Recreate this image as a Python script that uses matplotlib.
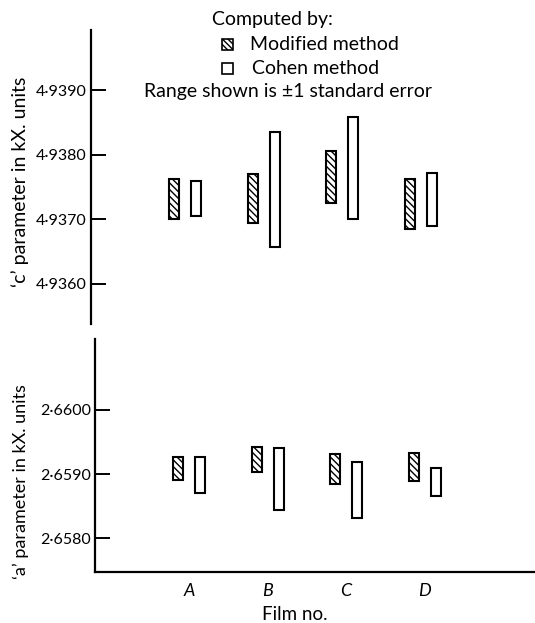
import matplotlib
matplotlib.use("Agg")
import matplotlib.pyplot as plt
from matplotlib.patches import Rectangle
import numpy as np

plt.rcParams['font.family'] = ['Lato', 'DejaVu Sans']
plt.rcParams['hatch.linewidth'] = 1.0

films = ['A', 'B', 'C', 'D']
c_mod_low = [4.93700, 4.93694, 4.93725, 4.93685]
c_mod_high = [4.93762, 4.93771, 4.93806, 4.93762]
c_coh_low = [4.93705, 4.93657, 4.93700, 4.93689]
c_coh_high = [4.93759, 4.93835, 4.93858, 4.93772]
a_mod_low = [2.65891, 2.65903, 2.65884, 2.65889]
a_mod_high = [2.65927, 2.65942, 2.65931, 2.65933]
a_coh_low = [2.65871, 2.65844, 2.65831, 2.65866]
a_coh_high = [2.65926, 2.65940, 2.65918, 2.65909]
c_ticks = [4.9360, 4.9370, 4.9380, 4.9390]
c_ticklabels = ['4·9360', '4·9370', '4·9380', '4·9390']
a_ticks = [2.6580, 2.6590, 2.6600]
a_ticklabels = ['2·6580', '2·6590', '2·6600']

W, H = 535, 623
fig = plt.figure(figsize=(W / 100, H / 100), dpi=100)

def frac(x0, y0, x1, y1):
    return [x0 / W, 1 - y1 / H, (x1 - x0) / W, (y1 - y0) / H]

ax1 = fig.add_axes(frac(91, 30, 531, 324))
ax2 = fig.add_axes(frac(95, 339, 535, 572))

x = np.arange(len(films))
bw = 0.13
off = 0.14
fs = 11.5

def draw(ax, mlo, mhi, clo, chi, ticks, labels, ylim, ylabel, lfs):
    mlo, mhi, clo, chi = map(np.array, (mlo, mhi, clo, chi))
    ax.bar(x - off, mhi - mlo, bottom=mlo, width=bw, facecolor='white',
           edgecolor='black', linewidth=1.5, hatch='\\\\\\\\\\')
    ax.bar(x + off, chi - clo, bottom=clo, width=bw, facecolor='white',
           edgecolor='black', linewidth=1.5)
    ax.set_xlim(-1.2, 4.405)
    ax.set_ylim(*ylim)
    ax.set_yticks(ticks)
    ax.set_yticklabels(labels, fontsize=fs)
    ax.tick_params(axis='y', direction='in', length=11, width=1.4, pad=3)
    for s in ['top', 'right']:
        ax.spines[s].set_visible(False)
    ax.spines['left'].set_linewidth(1.6)
    ax.set_ylabel(ylabel, fontsize=lfs)

draw(ax1, c_mod_low, c_mod_high, c_coh_low, c_coh_high, c_ticks, c_ticklabels,
     (4.9390 - 232 / 64 * 0.001, 4.9390 + 60 / 64 * 0.001),
     "‘c’ parameter in kX. units", 14)
ax1.spines['bottom'].set_visible(False)
ax1.set_xticks([])
ax1.yaxis.set_label_coords(-0.142, 0.483)

draw(ax2, a_mod_low, a_mod_high, a_coh_low, a_coh_high, a_ticks, a_ticklabels,
     (2.6600 - 162 / 64 * 0.001, 2.6600 + 71 / 64 * 0.001),
     "‘a’ parameter in kX. units", 13)
ax2.spines['bottom'].set_linewidth(1.6)
ax2.set_xticks(x)
ax2.set_xticklabels(films, fontsize=13, style='italic')
ax2.tick_params(axis='x', length=0, pad=8)
ax2.set_xlabel('Film no.', fontsize=13.5)
ax2.xaxis.set_label_coords(0.455, -0.145)
ax2.yaxis.set_label_coords(-0.151, 0.39)

# legend
lf = 14
fig.text(272 / W, 1 - 20 / H, 'Computed by:', fontsize=lf, ha='center', va='center')
fig.text(250 / W, 1 - 45 / H, 'Modified method', fontsize=lf, ha='left', va='center')
fig.text(252 / W, 1 - 68 / H, 'Cohen method', fontsize=lf, ha='left', va='center')
fig.text(288 / W, 1 - 91 / H, 'Range shown is ±1 standard error', fontsize=lf,
         ha='center', va='center')
fig.patches.append(Rectangle((222 / W, 1 - 50 / H), 11 / W, 11 / H, transform=fig.transFigure,
                             facecolor='white', edgecolor='black', linewidth=1.2,
                             hatch='\\\\\\\\\\\\'))
fig.patches.append(Rectangle((222 / W, 1 - 74 / H), 11 / W, 11 / H, transform=fig.transFigure,
                             facecolor='white', edgecolor='black', linewidth=1.2))

fig.savefig('out.png', dpi=100)
